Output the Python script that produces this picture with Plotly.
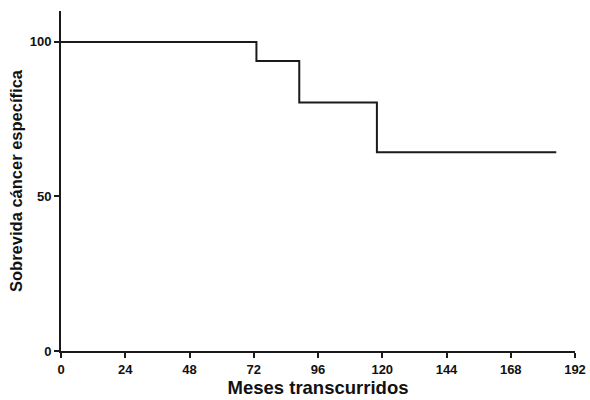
import plotly.graph_objects as go

# Kaplan-Meier style step curve
meses = [0, 73, 89, 118, 185]
sobrevida = [100, 93.8, 80.4, 64.3, 64.3]

x_ticks = [0, 24, 48, 72, 96, 120, 144, 168, 192]
y_ticks = [0, 50, 100]

fig = go.Figure(
    go.Scatter(
        x=meses,
        y=sobrevida,
        mode="lines",
        line=dict(shape="hv", color="#1a1a1a", width=2),
        showlegend=False,
    )
)

font_family = "Liberation Sans, Arial, sans-serif"
axis_font = dict(family=font_family, size=13, color="#111111")

fig.update_layout(
    width=590,
    height=400,
    margin=dict(l=61, r=15, t=11, b=49),
    plot_bgcolor="white",
    paper_bgcolor="white",
    xaxis=dict(
        range=[0, 192],
        tickvals=x_ticks,
        ticktext=["<b>%d</b>" % v for v in x_ticks],
        ticks="outside",
        ticklen=5,
        tickwidth=2,
        tickcolor="#1a1a1a",
        showline=True,
        linewidth=2,
        linecolor="#1a1a1a",
        showgrid=False,
        zeroline=False,
        automargin=False,
        tickfont=axis_font,
        title=dict(text="<b>Meses transcurridos</b>",
                   font=dict(family=font_family, size=18.5, color="#111111"), standoff=4),
    ),
    yaxis=dict(
        range=[0, 110],
        tickvals=y_ticks,
        ticktext=["<b>%d</b>" % v for v in y_ticks],
        ticks="outside",
        ticklen=5,
        tickwidth=2,
        tickcolor="#1a1a1a",
        showline=True,
        linewidth=2,
        linecolor="#1a1a1a",
        showgrid=False,
        zeroline=False,
        automargin=False,
        tickfont=axis_font,
        title=dict(text="<b>Sobrevida cáncer específica</b>",
                   font=dict(family=font_family, size=16.5, color="#111111"), standoff=3),
    ),
)

# drop the browser's default body margin so the figure sits at the window corner
fig.write_html("out.html", config={"displayModeBar": False},
               post_script="document.body.style.margin='0';")
